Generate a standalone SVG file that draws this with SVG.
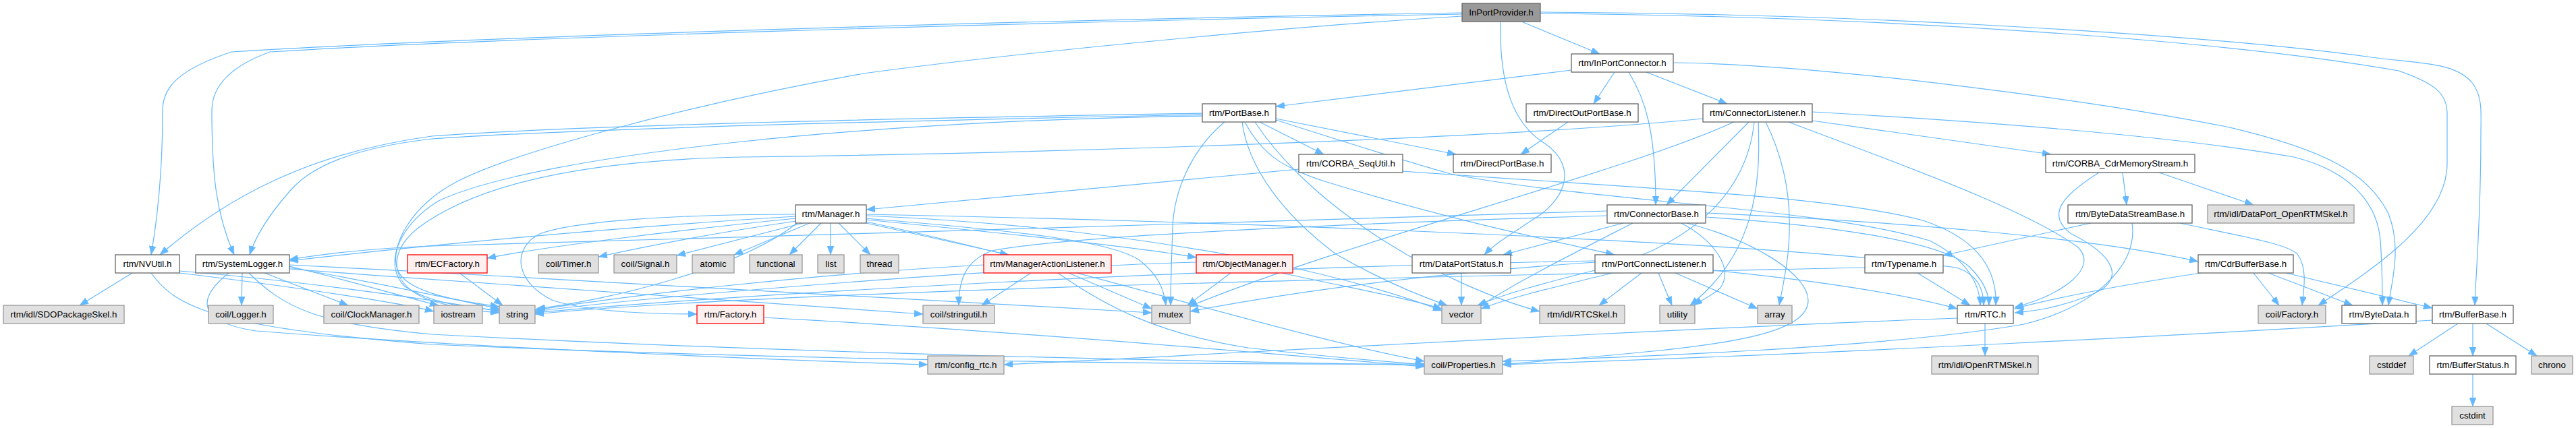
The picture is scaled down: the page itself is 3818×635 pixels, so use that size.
<svg xmlns="http://www.w3.org/2000/svg" width="3818" height="635" viewBox="0 0 3818 635">
<defs>
<style>
.e path{fill:none;stroke:#63b8ff;stroke-width:1.2;marker-end:url(#ah)}
.n rect{stroke-width:1.3}
.n text{font-family:"Liberation Sans",Arial,sans-serif;font-size:13.33px;text-anchor:middle;fill:#000}
.w rect{fill:#fff;stroke:#666}
.g rect{fill:#e0e0e0;stroke:#999}
.r rect{fill:#fff0f0;stroke:#f00}
.m rect{fill:#999;stroke:#666}
</style>
<marker id="ah" viewBox="0 0 13 10" refX="13" refY="5" markerWidth="13" markerHeight="10" markerUnits="userSpaceOnUse" orient="auto"><path d="M0,0 L13,5 L0,10 z" fill="#63b8ff" stroke="#63b8ff" stroke-width="0.5"/></marker>
</defs>
<rect width="3818" height="635" fill="#fff"/>
<g id="edges" class="e">
<path d="M2167,19 C1500,30 700,55 343,77 C265,103 241,129 241,164 C241,258 232,332 224,378"/>
<path d="M2167,21 C1500,33 700,58 400,77 C340,99 314,129 314,164 C314,258 320,317 347,378"/>
<path d="M2167,24 C1900,40 1500,79 1280,109 C1000,159 760,228 680,268 C610,303 575,367 590,402 C605,436 690,448 740,455"/>
<path d="M2255,32 L2371,80"/>
<path d="M2224,32 C2222,119 2240,183 2290,213 C2340,248 2320,298 2270,327 C2240,347 2215,362 2200,378"/>
<path d="M2283,20 C2800,24 3300,60 3555,105 C3610,124 3627,139 3627,169 L3627,243 C3627,327 3520,397 3436,453"/>
<path d="M2283,18 C2800,20 3300,55 3515,85 C3580,94 3640,91 3665,124 C3680,144 3677,169 3677,198 C3677,327 3670,397 3668,453"/>
<path d="M2329,104 L1891,158"/>
<path d="M2393,107 L2362,154"/>
<path d="M2414,107 C2440,149 2454,198 2454,304"/>
<path d="M2440,107 L2560,154"/>
<path d="M2480,93 C2700,95 3100,149 3300,188 C3450,223 3510,258 3540,317 C3560,367 3545,417 3540,453"/>
<path d="M2324,181 L2254,229"/>
<path d="M1782,168 C1500,173 900,183 640,202 C450,228 330,298 237,378"/>
<path d="M1782,170 C1500,176 900,188 640,206 C520,220 460,248 430,283 C400,317 380,347 370,378"/>
<path d="M1782,172 C1300,178 800,228 650,298 C585,338 570,397 600,425 C640,451 700,458 740,460"/>
<path d="M1867,181 L1962,229"/>
<path d="M1891,176 L2158,229"/>
<path d="M1815,181 C1770,218 1740,278 1738,338 C1736,397 1735,427 1735,453"/>
<path d="M1841,181 C1850,248 1900,317 1980,377 C2050,417 2110,441 2145,453"/>
<path d="M1845,181 C1870,228 1900,248 1960,268 C2150,327 2300,357 2393,378"/>
<path d="M1891,178 C2000,213 2080,238 2150,258 C2350,298 2700,308 2860,357 C2920,387 2935,427 2935,453"/>
<path d="M1860,181 C1950,318 2150,427 2282,462"/>
<path d="M1925,251 L1284,311"/>
<path d="M2079,254 C2400,278 2700,288 2850,327 C2940,357 2960,407 2958,453"/>
<path d="M2524,176 C2200,208 1500,228 1100,233 C850,238 700,278 620,338 C570,377 580,427 640,446 C690,461 720,462 740,464"/>
<path d="M2570,181 C2400,258 2000,357 1762,455"/>
<path d="M2592,181 L2470,304"/>
<path d="M2600,181 C2590,278 2520,357 2380,397 C2280,422 2230,436 2190,453"/>
<path d="M2606,181 C2610,278 2600,377 2505,453"/>
<path d="M2617,181 C2655,258 2655,327 2650,377 C2645,417 2640,436 2637,453"/>
<path d="M2651,181 C2800,238 3000,308 3080,367 C3110,397 3060,436 2986,456"/>
<path d="M2686,166 C2900,178 3200,198 3400,233 C3500,258 3525,317 3528,357 C3531,397 3531,427 3531,453"/>
<path d="M2686,179 L3040,229"/>
<path d="M2382,313 C2000,320 1200,352 640,365 C540,369 480,377 429,385"/>
<path d="M2382,320 C2100,328 1600,347 1470,372 C1430,387 1421,417 1421,453"/>
<path d="M2406,331 L2228,378"/>
<path d="M2420,331 C2330,377 2250,417 2192,455"/>
<path d="M2492,331 C2540,357 2570,397 2550,427 C2535,441 2520,446 2510,453"/>
<path d="M2500,331 C2600,357 2680,407 2680,446 C2680,486 2600,506 2450,521 C2350,531 2280,536 2227,541"/>
<path d="M2528,322 C2700,333 2880,357 2920,397 C2940,417 2948,436 2948,453"/>
<path d="M2528,316 C2800,328 3100,352 3258,388"/>
<path d="M3146,256 L3152,304"/>
<path d="M3200,256 L3340,304"/>
<path d="M3111,256 C3060,288 3030,318 3070,347 C3130,377 3160,417 3090,441 C3050,456 3020,461 2986,464"/>
<path d="M3099,331 L2880,379"/>
<path d="M3231,331 C3330,352 3390,362 3405,377 C3420,397 3415,427 3412,453"/>
<path d="M3160,331 C3170,397 3100,456 3000,481 C2800,516 2400,531 2227,536"/>
<path d="M2842,405 L2920,453"/>
<path d="M2764,397 C2300,407 1200,427 793,466"/>
<path d="M2166,405 L2166,453"/>
<path d="M2433,405 L2370,453"/>
<path d="M2458,405 L2478,453"/>
<path d="M2483,405 L2605,458"/>
<path d="M2539,401 C2700,417 2820,436 2901,458"/>
<path d="M2390,405 C2300,427 2240,441 2195,458"/>
<path d="M2364,389 C2100,407 1900,436 1764,462"/>
<path d="M2364,387 C1800,397 1100,436 793,464"/>
<path d="M1824,405 L1760,453"/>
<path d="M1900,405 C2000,427 2080,441 2137,458"/>
<path d="M1773,389 C1500,397 1000,436 793,462"/>
<path d="M1528,405 L1455,453"/>
<path d="M1584,405 L1707,458"/>
<path d="M1458,393 C1200,407 950,436 793,460"/>
<path d="M1568,405 C1640,456 1720,496 1850,516 C1980,531 2050,536 2111,541"/>
<path d="M1179,324 C1000,342 800,367 722,383"/>
<path d="M1180,328 C1050,347 950,367 887,381"/>
<path d="M1190,331 L1003,379"/>
<path d="M1200,331 L1088,378"/>
<path d="M1217,331 L1170,378"/>
<path d="M1231,331 L1231,378"/>
<path d="M1243,331 L1290,378"/>
<path d="M1284,331 L1495,378"/>
<path d="M1284,326 C1500,347 1700,369 1773,382"/>
<path d="M1284,324 C1500,342 1650,357 1690,387 C1715,407 1725,427 1728,453"/>
<path d="M1179,318 C1000,318 850,328 800,347 C760,367 760,417 820,446 C880,464 980,466 1033,466"/>
<path d="M1179,321 C900,338 600,367 429,387"/>
<path d="M1181,331 C1100,397 900,446 795,458"/>
<path d="M1284,320 C1700,338 2000,407 2137,461"/>
<path d="M1284,318 C1800,328 2600,357 2900,397 C2930,407 2940,427 2940,453"/>
<path d="M1284,329 C1600,397 1900,496 2111,536"/>
<path d="M681,405 L745,453"/>
<path d="M1132,471 C1500,491 1900,526 2111,544"/>
<path d="M196,405 L118,453"/>
<path d="M224,405 C260,456 320,486 640,511 C1200,536 1800,541 2111,540"/>
<path d="M266,402 C450,417 650,446 740,462"/>
<path d="M266,405 C450,427 600,451 643,462"/>
<path d="M359,405 L358,453"/>
<path d="M392,405 L516,453"/>
<path d="M339,405 C300,436 280,476 380,491 C700,516 1200,536 1375,541"/>
<path d="M369,405 C420,456 470,481 640,496 C1200,526 1800,536 2111,542"/>
<path d="M429,397 C550,417 680,446 740,458"/>
<path d="M429,395 C520,417 600,441 650,453"/>
<path d="M429,393 C900,417 1400,446 1707,464"/>
<path d="M429,399 C800,427 1200,456 1368,466"/>
<path d="M2942,480 L2942,528"/>
<path d="M2901,472 C2400,491 1800,526 1488,541"/>
<path d="M3262,405 C3150,422 3050,441 2986,458"/>
<path d="M3340,405 L3378,453"/>
<path d="M3362,405 L3487,453"/>
<path d="M3388,405 L3605,457"/>
<path d="M3643,480 L3570,528"/>
<path d="M3665,480 L3665,528"/>
<path d="M3685,480 L3760,528"/>
<path d="M3605,475 C3300,494 2700,526 2227,541"/>
<path d="M3665,555 L3665,603"/>
</g>
<g id="node-InPortProvider" class="n m"><rect x="2167" y="5" width="116" height="27"/><text x="2225" y="23">InPortProvider.h</text></g>
<g id="node-InPortConnector" class="n w"><rect x="2329" y="80" width="151" height="27"/><text x="2404.5" y="98">rtm/InPortConnector.h</text></g>
<g id="node-PortBase" class="n w"><rect x="1782" y="154" width="109" height="27"/><text x="1836.5" y="172">rtm/PortBase.h</text></g>
<g id="node-DirectOutPortBase" class="n w"><rect x="2262" y="154" width="166" height="27"/><text x="2345" y="172">rtm/DirectOutPortBase.h</text></g>
<g id="node-ConnectorListener" class="n w"><rect x="2524" y="154" width="162" height="27"/><text x="2605" y="172">rtm/ConnectorListener.h</text></g>
<g id="node-CORBA_SeqUtil" class="n w"><rect x="1925" y="229" width="154" height="27"/><text x="2002" y="247">rtm/CORBA_SeqUtil.h</text></g>
<g id="node-DirectPortBase" class="n w"><rect x="2154" y="229" width="145" height="27"/><text x="2226.5" y="247">rtm/DirectPortBase.h</text></g>
<g id="node-CORBA_CdrMemoryStream" class="n w"><rect x="3032" y="229" width="221" height="27"/><text x="3142.5" y="247">rtm/CORBA_CdrMemoryStream.h</text></g>
<g id="node-Manager" class="n w"><rect x="1179" y="304" width="105" height="27"/><text x="1231.5" y="322">rtm/Manager.h</text></g>
<g id="node-ConnectorBase" class="n w"><rect x="2382" y="304" width="146" height="27"/><text x="2455" y="322">rtm/ConnectorBase.h</text></g>
<g id="node-ByteDataStreamBase" class="n w"><rect x="3065" y="304" width="184" height="27"/><text x="3157" y="322">rtm/ByteDataStreamBase.h</text></g>
<g id="node-DataPort_OpenRTMSkel" class="n g"><rect x="3272" y="304" width="217" height="27"/><text x="3380.5" y="322">rtm/idl/DataPort_OpenRTMSkel.h</text></g>
<g id="node-NVUtil" class="n w"><rect x="171" y="378" width="95" height="27"/><text x="218.5" y="396">rtm/NVUtil.h</text></g>
<g id="node-SystemLogger" class="n w"><rect x="290" y="378" width="139" height="27"/><text x="359.5" y="396">rtm/SystemLogger.h</text></g>
<g id="node-ECFactory" class="n r"><rect x="604" y="378" width="118" height="27"/><text x="663" y="396">rtm/ECFactory.h</text></g>
<g id="node-Timer" class="n g"><rect x="798" y="378" width="89" height="27"/><text x="842.5" y="396">coil/Timer.h</text></g>
<g id="node-Signal" class="n g"><rect x="910" y="378" width="93" height="27"/><text x="956.5" y="396">coil/Signal.h</text></g>
<g id="node-atomic" class="n g"><rect x="1026" y="378" width="62" height="27"/><text x="1057" y="396">atomic</text></g>
<g id="node-functional" class="n g"><rect x="1111" y="378" width="78" height="27"/><text x="1150" y="396">functional</text></g>
<g id="node-list" class="n g"><rect x="1212" y="378" width="39" height="27"/><text x="1231.5" y="396">list</text></g>
<g id="node-thread" class="n g"><rect x="1275" y="378" width="57" height="27"/><text x="1303.5" y="396">thread</text></g>
<g id="node-ManagerActionListener" class="n r"><rect x="1458" y="378" width="189" height="27"/><text x="1552.5" y="396">rtm/ManagerActionListener.h</text></g>
<g id="node-ObjectManager" class="n r"><rect x="1773" y="378" width="143" height="27"/><text x="1844.5" y="396">rtm/ObjectManager.h</text></g>
<g id="node-DataPortStatus" class="n w"><rect x="2093" y="378" width="146" height="27"/><text x="2166" y="396">rtm/DataPortStatus.h</text></g>
<g id="node-PortConnectListener" class="n w"><rect x="2364" y="378" width="175" height="27"/><text x="2451.5" y="396">rtm/PortConnectListener.h</text></g>
<g id="node-Typename" class="n w"><rect x="2764" y="378" width="116" height="27"/><text x="2822" y="396">rtm/Typename.h</text></g>
<g id="node-CdrBufferBase" class="n w"><rect x="3258" y="378" width="141" height="27"/><text x="3328.5" y="396">rtm/CdrBufferBase.h</text></g>
<g id="node-SDOPackageSkel" class="n g"><rect x="5" y="453" width="179" height="27"/><text x="94.5" y="471">rtm/idl/SDOPackageSkel.h</text></g>
<g id="node-Logger" class="n g"><rect x="309" y="453" width="96" height="27"/><text x="357" y="471">coil/Logger.h</text></g>
<g id="node-ClockManager" class="n g"><rect x="480" y="453" width="141" height="27"/><text x="550.5" y="471">coil/ClockManager.h</text></g>
<g id="node-iostream" class="n g"><rect x="643" y="453" width="72" height="27"/><text x="679" y="471">iostream</text></g>
<g id="node-string" class="n g"><rect x="740" y="453" width="53" height="27"/><text x="766.5" y="471">string</text></g>
<g id="node-Factory" class="n r"><rect x="1033" y="453" width="99" height="27"/><text x="1082.5" y="471">rtm/Factory.h</text></g>
<g id="node-stringutil" class="n g"><rect x="1368" y="453" width="106" height="27"/><text x="1421" y="471">coil/stringutil.h</text></g>
<g id="node-mutex" class="n g"><rect x="1707" y="453" width="57" height="27"/><text x="1735.5" y="471">mutex</text></g>
<g id="node-vector" class="n g"><rect x="2137" y="453" width="58" height="27"/><text x="2166" y="471">vector</text></g>
<g id="node-RTCSkel" class="n g"><rect x="2282" y="453" width="126" height="27"/><text x="2345" y="471">rtm/idl/RTCSkel.h</text></g>
<g id="node-utility" class="n g"><rect x="2460" y="453" width="52" height="27"/><text x="2486" y="471">utility</text></g>
<g id="node-array" class="n g"><rect x="2605" y="453" width="51" height="27"/><text x="2630.5" y="471">array</text></g>
<g id="node-RTC" class="n w"><rect x="2901" y="453" width="83" height="27"/><text x="2942.5" y="471">rtm/RTC.h</text></g>
<g id="node-coilFactory" class="n g"><rect x="3347" y="453" width="100" height="27"/><text x="3397" y="471">coil/Factory.h</text></g>
<g id="node-ByteData" class="n w"><rect x="3471" y="453" width="110" height="27"/><text x="3526" y="471">rtm/ByteData.h</text></g>
<g id="node-BufferBase" class="n w"><rect x="3605" y="453" width="120" height="27"/><text x="3665" y="471">rtm/BufferBase.h</text></g>
<g id="node-config_rtc" class="n g"><rect x="1375" y="528" width="113" height="27"/><text x="1431.5" y="546">rtm/config_rtc.h</text></g>
<g id="node-Properties" class="n g"><rect x="2111" y="528" width="116" height="27"/><text x="2169" y="546">coil/Properties.h</text></g>
<g id="node-OpenRTMSkel" class="n g"><rect x="2863" y="528" width="158" height="27"/><text x="2942" y="546">rtm/idl/OpenRTMSkel.h</text></g>
<g id="node-cstddef" class="n g"><rect x="3512" y="528" width="65" height="27"/><text x="3544.5" y="546">cstddef</text></g>
<g id="node-BufferStatus" class="n w"><rect x="3601" y="528" width="128" height="27"/><text x="3665" y="546">rtm/BufferStatus.h</text></g>
<g id="node-chrono" class="n g"><rect x="3752" y="528" width="61" height="27"/><text x="3782.5" y="546">chrono</text></g>
<g id="node-cstdint" class="n g"><rect x="3634" y="603" width="61" height="27"/><text x="3664.5" y="621">cstdint</text></g>
</svg>
